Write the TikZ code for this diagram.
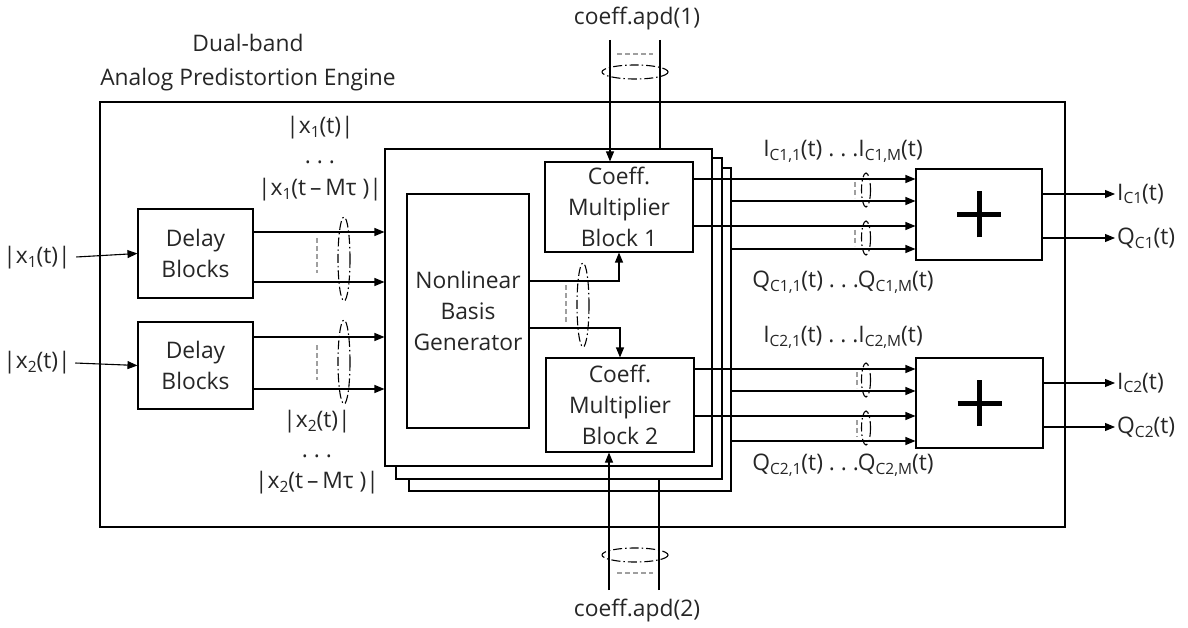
\documentclass[tikz,border=0pt]{standalone}
\usepackage{fontspec}
\setmainfont{Open Sans}
\usetikzlibrary{arrows.meta}
\newcommand\sbs[1]{\raisebox{-3.8pt}{\fontsize{15.5}{15.5}\selectfont #1}}
\begin{document}
\begin{tikzpicture}[x=1pt,y=-1pt,
  every node/.style={font=\fontsize{22.8}{31}\selectfont, text=black!85},
  blk/.style={draw, line width=1.1pt, fill=white, inner sep=0pt, align=center, text=black!85},
  ln/.style={line width=1.1pt},
  arr/.style={ln, -{Triangle[length=10pt,width=8pt]}},
  grp/.style={line width=1.1pt, dash pattern=on 9pt off 3pt on 1.5pt off 3pt},
  gd/.style={line width=1.2pt, gray!75, dash pattern=on 5pt off 3pt},
  plusmark/.style={line width=5pt}
]
\useasboundingbox (0,0) rectangle (1188,628);

% outer engine box and title
\node[draw, line width=1.1pt, minimum width=965pt, minimum height=425pt, inner sep=0pt] (eng) at (582.5,314.5) {};
\node[align=center, font=\fontsize{22.8}{34}\selectfont] (title) at (248,63) {Dual-band\\Analog Predistortion Engine};

% delay blocks
\node[blk, minimum width=115pt, minimum height=89pt] (d1) at (195.5,253.5) {Delay\\Blocks};
\node[blk, minimum width=115pt, minimum height=87pt] (d2) at (195.5,365.5) {Delay\\Blocks};

% inputs
\node (x1in) at (37,258) {|x\sbs{1}(t)|};
\node (x2in) at (37,363) {|x\sbs{2}(t)|};
\draw[arr] ([xshift=2pt,yshift=1pt]x1in.east) -- (d1.west);
\draw[arr] ([xshift=1pt]x2in.east) -- (d2.west);

% stacked boxes
\node[blk, minimum width=322pt, minimum height=323pt] (C) at (570,329.5) {};
\node[blk, minimum width=326pt, minimum height=321pt] (B) at (559,318.5) {};
\node[blk, minimum width=327pt, minimum height=317pt] (A) at (548.5,307.5) {};

% inner blocks
\node[blk, minimum width=122pt, minimum height=234pt] (nbg) at (468,311) {Nonlinear\\Basis\\Generator};
\node[blk, minimum width=148pt, minimum height=90pt] (cm1) at (619,207) {Coeff.\\Multiplier\\Block 1};
\node[blk, minimum width=148pt, minimum height=94pt] (cm2) at (620,405) {Coeff.\\Multiplier\\Block 2};

% delay outputs
\draw[arr] (d1.east |- 0,232) -- (A.west |- 0,232);
\draw[arr] (d1.east |- 0,282) -- (A.west |- 0,282);
\draw[arr] (d2.east |- 0,337) -- (A.west |- 0,337);
\draw[arr] (d2.east |- 0,389) -- (A.west |- 0,389);
\draw[gd] (317,238) -- (317,273);
\draw[gd] (317,345) -- (317,380);
\draw[grp] (344,259) ellipse [x radius=6, y radius=42];
\draw[grp] (344,362) ellipse [x radius=6, y radius=42];

% delay labels
\node (lx1a) at (320,128) {|x\sbs{1}(t)|};
\node (lx1b) at (320,162) {.\ .\ .};
\node (lx1c) at (320,190) {|x\sbs{1}(t\,–\,Mτ\ )|};
\node (lx2a) at (317,422) {|x\sbs{2}(t)|};
\node (lx2b) at (317,456) {.\ .\ .};
\node (lx2c) at (317,483) {|x\sbs{2}(t\,–\,Mτ\ )|};

% NBG to multipliers
\draw[arr] (nbg.east |- 0,281) -| (cm1.south);
\draw[arr] (nbg.east |- 0,328) -| (cm2.north);
\draw[gd] (566,285) -- (566,322);
\draw[grp] (583,305) ellipse [x radius=6, y radius=42];

% coefficient inputs
\node (cin1) at (637,19) {coeff.apd(1)};
\node (cin2) at (637,611) {coeff.apd(2)};
\coordinate (c1a) at (610,40);
\coordinate (c1b) at (660,40);
\coordinate (c2a) at (609,590);
\coordinate (c2b) at (659,590);
\draw[arr] (c1a) -- (c1a |- cm1.north);
\draw[ln] (c1b) -- (c1b |- A.north);
\draw[arr] (c2a) -- (c2a |- cm2.south);
\draw[ln] (c2b) -- (c2b |- B.south);
\draw[gd] (617,54) -- (653,54);
\draw[grp] (635,72) ellipse [x radius=33, y radius=7];
\draw[gd] (617,573) -- (653,573);
\draw[grp] (635,555) ellipse [x radius=33, y radius=7];

% adders
\node[blk, minimum width=126pt, minimum height=91pt] (s1) at (979,214.5) {};
\node[blk, minimum width=127pt, minimum height=90pt] (s2) at (979.5,403) {};
\draw[plusmark] ([xshift=-22pt]s1.center) -- ([xshift=22pt]s1.center);
\draw[plusmark] ([yshift=-23pt]s1.center) -- ([yshift=23pt]s1.center);
\draw[plusmark] ([xshift=-22pt]s2.center) -- ([xshift=22pt]s2.center);
\draw[plusmark] ([yshift=-23pt]s2.center) -- ([yshift=23pt]s2.center);

% multiplier outputs
\draw[arr] (cm1.east |- 0,179) -- (s1.west |- 0,179);
\draw[arr] (C.east |- 0,201) -- (s1.west |- 0,201);
\draw[arr] (cm1.east |- 0,226) -- (s1.west |- 0,226);
\draw[arr] (C.east |- 0,249) -- (s1.west |- 0,249);
\draw[arr] (cm2.east |- 0,369) -- (s2.west |- 0,369);
\draw[arr] (C.east |- 0,391) -- (s2.west |- 0,391);
\draw[arr] (cm2.east |- 0,416) -- (s2.west |- 0,416);
\draw[arr] (C.east |- 0,441) -- (s2.west |- 0,441);
\draw[gd] (855,182) -- (855,198);
\draw[gd] (855,230) -- (855,246);
\draw[gd] (857,372) -- (857,388);
\draw[gd] (857,420) -- (857,437);
\draw[grp] (866,190) ellipse [x radius=4.5, y radius=17];
\draw[grp] (866,238) ellipse [x radius=4.5, y radius=17];
\draw[grp] (866,380) ellipse [x radius=4.5, y radius=17];
\draw[grp] (866,428) ellipse [x radius=4.5, y radius=17];

% bus labels
\node (li1) at (843,151) {I\sbs{C1,1}(t) .\ .\ .I\sbs{C1,M}(t)};
\node (lq1) at (843,282) {Q\sbs{C1,1}(t) .\ .\ .Q\sbs{C1,M}(t)};
\node (li2) at (843,337) {I\sbs{C2,1}(t) .\ .\ .I\sbs{C2,M}(t)};
\node (lq2) at (843,465) {Q\sbs{C2,1}(t) .\ .\ .Q\sbs{C2,M}(t)};

% outputs
\node[anchor=west, inner sep=2pt] (oi1) at (1115,194) {I\sbs{C1}(t)};
\node[anchor=west, inner sep=2pt] (oq1) at (1115,238) {Q\sbs{C1}(t)};
\node[anchor=west, inner sep=2pt] (oi2) at (1115,383) {I\sbs{C2}(t)};
\node[anchor=west, inner sep=2pt] (oq2) at (1115,427) {Q\sbs{C2}(t)};
\draw[arr] (s1.east |- oi1) -- (oi1.west);
\draw[arr] (s1.east |- oq1) -- (oq1.west);
\draw[arr] (s2.east |- oi2) -- (oi2.west);
\draw[arr] (s2.east |- oq2) -- (oq2.west);
\end{tikzpicture}
\end{document}
